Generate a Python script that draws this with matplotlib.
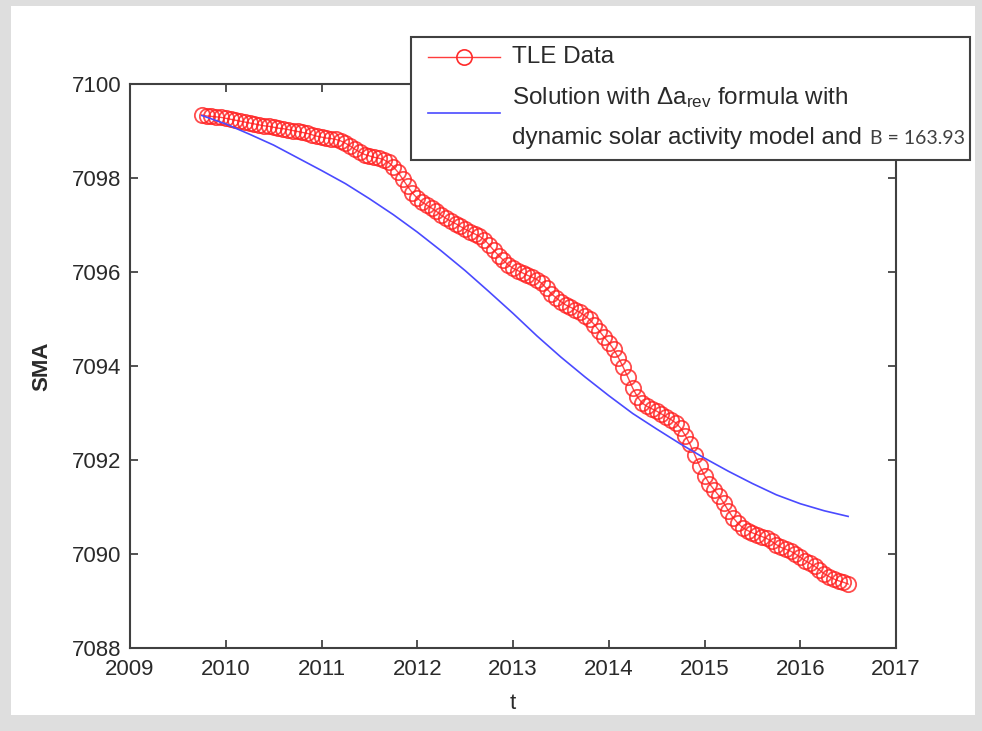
import matplotlib
matplotlib.use('Agg')
import matplotlib.pyplot as plt
from matplotlib.patches import Rectangle
from matplotlib.lines import Line2D

plt.rcParams['font.family'] = ['Liberation Sans', 'DejaVu Sans']
plt.rcParams['mathtext.fontset'] = 'custom'
plt.rcParams['mathtext.rm'] = 'Liberation Sans'
plt.rcParams['mathtext.it'] = 'Liberation Sans'

# TLE data (epoch in years, semi-major axis in km)
tle_t = [2009.75, 2009.80, 2009.85, 2009.90, 2009.95, 2010.00, 2010.05, 2010.10, 2010.15, 2010.20,
         2010.25, 2010.30, 2010.35, 2010.40, 2010.45, 2010.50, 2010.55, 2010.60, 2010.65, 2010.70,
         2010.75, 2010.80, 2010.85, 2010.90, 2010.95, 2011.00, 2011.05, 2011.10, 2011.15, 2011.20,
         2011.25, 2011.30, 2011.35, 2011.40, 2011.45, 2011.50, 2011.55, 2011.60, 2011.65, 2011.70,
         2011.75, 2011.80, 2011.85, 2011.90, 2011.95, 2012.00, 2012.05, 2012.10, 2012.15, 2012.20,
         2012.25, 2012.30, 2012.35, 2012.40, 2012.45, 2012.50, 2012.55, 2012.60, 2012.65, 2012.70,
         2012.75, 2012.80, 2012.85, 2012.90, 2012.95, 2013.00, 2013.05, 2013.10, 2013.15, 2013.20,
         2013.25, 2013.30, 2013.35, 2013.40, 2013.45, 2013.50, 2013.55, 2013.60, 2013.65, 2013.70,
         2013.75, 2013.80, 2013.85, 2013.90, 2013.95, 2014.00, 2014.05, 2014.10, 2014.15, 2014.20,
         2014.25, 2014.30, 2014.35, 2014.40, 2014.45, 2014.50, 2014.55, 2014.60, 2014.65, 2014.70,
         2014.75, 2014.80, 2014.85, 2014.90, 2014.95, 2015.00, 2015.05, 2015.10, 2015.15, 2015.20,
         2015.25, 2015.30, 2015.35, 2015.40, 2015.45, 2015.50, 2015.55, 2015.60, 2015.65, 2015.70,
         2015.75, 2015.80, 2015.85, 2015.90, 2015.95, 2016.00, 2016.05, 2016.10, 2016.15, 2016.20,
         2016.25, 2016.30, 2016.35, 2016.40, 2016.45, 2016.50]
tle_sma = [7099.34, 7099.32, 7099.31, 7099.30, 7099.29, 7099.27, 7099.25, 7099.23, 7099.21, 7099.19,
           7099.17, 7099.15, 7099.13, 7099.11, 7099.10, 7099.08, 7099.06, 7099.05, 7099.03, 7099.01,
           7098.99, 7098.97, 7098.95, 7098.92, 7098.89, 7098.87, 7098.85, 7098.84, 7098.82, 7098.79,
           7098.74, 7098.68, 7098.61, 7098.55, 7098.50, 7098.47, 7098.44, 7098.42, 7098.39, 7098.33,
           7098.24, 7098.12, 7097.97, 7097.82, 7097.68, 7097.57, 7097.49, 7097.42, 7097.36, 7097.29,
           7097.21, 7097.14, 7097.08, 7097.03, 7096.97, 7096.91, 7096.86, 7096.81, 7096.76, 7096.69,
           7096.58, 7096.46, 7096.35, 7096.25, 7096.15, 7096.08, 7096.03, 7095.98, 7095.93, 7095.89,
           7095.84, 7095.76, 7095.65, 7095.54, 7095.45, 7095.37, 7095.30, 7095.25, 7095.20, 7095.14,
           7095.07, 7094.99, 7094.88, 7094.75, 7094.62, 7094.50, 7094.36, 7094.18, 7093.98, 7093.76,
           7093.53, 7093.34, 7093.21, 7093.14, 7093.09, 7093.04, 7092.98, 7092.92, 7092.86, 7092.79,
           7092.68, 7092.52, 7092.33, 7092.10, 7091.87, 7091.67, 7091.50, 7091.37, 7091.24, 7091.09,
           7090.92, 7090.77, 7090.65, 7090.56, 7090.50, 7090.45, 7090.41, 7090.37, 7090.33, 7090.27,
           7090.20, 7090.14, 7090.10, 7090.06, 7090.00, 7089.93, 7089.86, 7089.80, 7089.74, 7089.66,
           7089.58, 7089.52, 7089.47, 7089.43, 7089.40, 7089.36]

# model solution
sol_t = [2009.75, 2010.00, 2010.25, 2010.50, 2010.75, 2011.00, 2011.25, 2011.50, 2011.75, 2012.00,
         2012.25, 2012.50, 2012.75, 2013.00, 2013.25, 2013.50, 2013.75, 2014.00, 2014.25, 2014.50,
         2014.75, 2015.00, 2015.25, 2015.50, 2015.75, 2016.00, 2016.25, 2016.50]
sol_sma = [7099.33, 7099.15, 7098.93, 7098.70, 7098.43, 7098.16, 7097.88, 7097.56, 7097.22, 7096.85,
           7096.45, 7096.03, 7095.58, 7095.12, 7094.64, 7094.19, 7093.77, 7093.37, 7092.99, 7092.66,
           7092.34, 7092.04, 7091.76, 7091.50, 7091.26, 7091.07, 7090.92, 7090.80]

xticks = [2009, 2010, 2011, 2012, 2013, 2014, 2015, 2016, 2017]
yticks = [7088, 7090, 7092, 7094, 7096, 7098, 7100]

W, H = 982, 731
fig = plt.figure(figsize=(W / 100, H / 100), dpi=100, facecolor='#dedede')
# white slide area
fig.patches.append(Rectangle((11 / W, 1 - 715 / H), (975 - 11) / W, (715 - 6) / H,
                             transform=fig.transFigure, facecolor='white', edgecolor='none', zorder=-10))

ax = fig.add_axes([130 / W, 1 - 648 / H, (896 - 130) / W, (648 - 84) / H])
ax.set_facecolor('white')

ax.plot(tle_t, tle_sma, '-o', color='#ff1a1a', mfc='none', mec='#ff2020', ms=11, mew=1.3, lw=1.0, alpha=0.8)
ax.plot(sol_t, sol_sma, '-', color='#4a4aff', lw=1.2)

ax.set_xlim(2009, 2017)
ax.set_ylim(7088, 7100)
ax.set_xticks(xticks)
ax.set_yticks(yticks)
ax.tick_params(direction='in', top=True, right=True, length=6, width=1.2, color='#333333',
               labelsize=16, labelcolor='#2a2a2a', pad=6)
ax.tick_params(axis='x', pad=8)
for s in ax.spines.values():
    s.set_color('#404040')
    s.set_linewidth(1.5)

ax.set_xlabel('t', fontsize=16, color='#2a2a2a', labelpad=9)
ax.set_ylabel('SMA', fontsize=16, fontweight='bold', color='#2a2a2a', labelpad=14)

# legend box
fig.patches.append(Rectangle((411 / W, 1 - 160 / H), (970 - 411) / W, (160 - 37) / H,
                             transform=fig.transFigure, facecolor='white', edgecolor='#404040',
                             lw=1.5, zorder=5))
fig.lines.append(Line2D([428 / W, 500 / W], [1 - 57 / H, 1 - 57 / H], transform=fig.transFigure,
                        color='#ff1a1a', lw=1.0, alpha=0.85, zorder=6))
fig.lines.append(Line2D([464 / W], [1 - 57 / H], transform=fig.transFigure, marker='o', ms=11,
                        mfc='none', mec='#ff2a2a', mew=1.2, zorder=6))
fig.lines.append(Line2D([428 / W, 500 / W], [1 - 113 / H, 1 - 113 / H], transform=fig.transFigure,
                        color='#4a4aff', lw=1.2, zorder=6))
fig.text(512 / W, 1 - 57 / H, 'TLE Data', fontsize=17.5, color='#2a2a2a', va='center', zorder=7)
fig.text(512 / W, 1 - 98 / H, r'Solution with $\Delta\mathregular{a}_{\mathregular{rev}}$ formula with',
         fontsize=17.5, color='#2a2a2a', va='center', zorder=7)
fig.text(512 / W, 1 - 138 / H, 'dynamic solar activity model and', fontsize=17.5, color='#2a2a2a',
         va='center', zorder=7)
fig.text(870 / W, 1 - 139 / H, 'B = 163.93', fontsize=14, family='Lato', color='#404040',
         va='center', zorder=7)

fig.savefig('out.png', dpi=100, facecolor=fig.get_facecolor())
